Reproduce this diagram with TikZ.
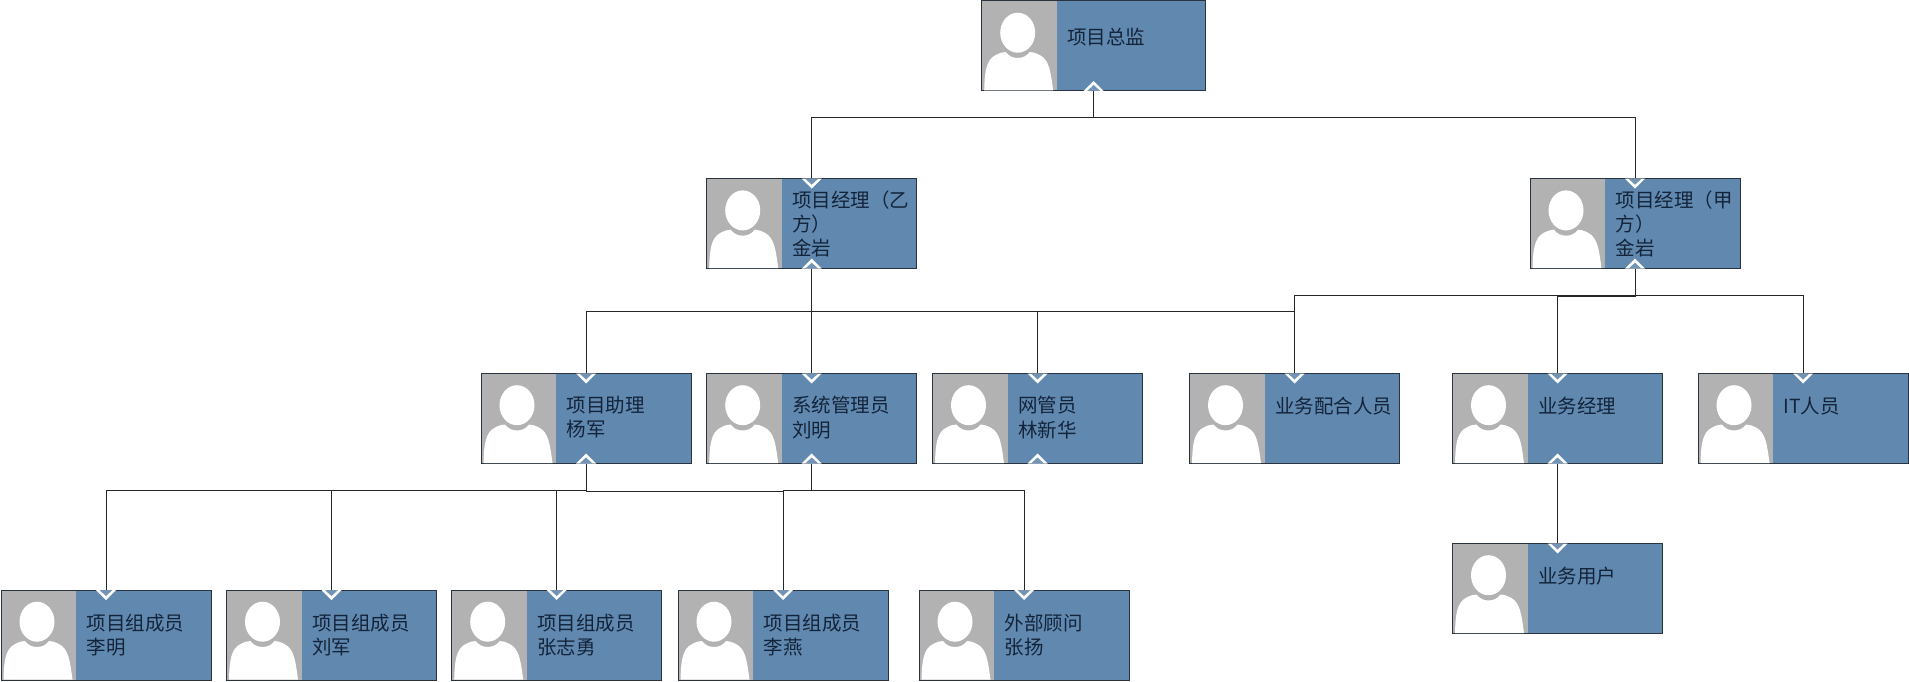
\documentclass[tikz,border=0pt]{standalone}
\usepackage{fontspec}
\setmainfont{Noto Sans CJK SC}
\definecolor{boxblue}{HTML}{6189B0}
\definecolor{photogrey}{HTML}{B2B2B2}
\definecolor{edgedark}{HTML}{2A3440}
\definecolor{tipblue}{HTML}{7494B5}
\definecolor{inktext}{HTML}{13233A}
\tikzset{
  personbox/.style={draw=edgedark,line width=1pt,fill=boxblue,rectangle,anchor=north west,
    minimum width=#1,minimum height=90pt,inner sep=0pt,outer sep=0pt},
  persontext/.style={anchor=north west,inner sep=0pt,outer sep=0pt,align=left,text=inktext,
    font=\fontsize{19.5pt}{24.4pt}\selectfont},
  link/.style={draw=black!85,line width=1pt}
}
% name, left, top, width, first-line offset, text
\newcommand{\personcard}[6]{%
  \node[personbox=#4] (#1) at (#2,#3) {};
  \fill[photogrey] (#2+.5,#3+.5) rectangle (#2+75,#3+89.5);
  \fill[white] (#2+36,#3+31.7) ellipse [x radius=17.5pt,y radius=20pt];
  \fill[white] (#2+2.5,#3+89.5) .. controls (#2+3,#3+72) and (#2+4,#3+59) .. (#2+14,#3+54)
     .. controls (#2+18,#3+52) and (#2+21,#3+51) .. (#2+24,#3+51)
     .. controls (#2+27,#3+55) and (#2+31,#3+57) .. (#2+36,#3+57)
     .. controls (#2+41,#3+57) and (#2+45,#3+55) .. (#2+48,#3+51)
     .. controls (#2+51,#3+51) and (#2+54,#3+52) .. (#2+58,#3+54)
     .. controls (#2+68,#3+59) and (#2+69,#3+72) .. (#2+71.5,#3+89.5) -- cycle;
  \node[persontext] (#1t) at (#2+85.5,#3+#5-8.8) {#6};
}
\newcommand{\tipbelow}[1]{% chevron at the top edge of a card
  \path (#1.north) coordinate (tp);
  \fill[white] ([xshift=-10pt]tp) -- ([xshift=10pt]tp) -- ([yshift=-10pt]tp) -- cycle;
  \fill[tipblue] ([xshift=-6.5pt]tp) -- ([xshift=6.5pt]tp) -- ([yshift=-6pt]tp) -- cycle;
}
\newcommand{\tipabove}[1]{% chevron at the bottom edge of a card
  \path (#1.south) coordinate (tp);
  \fill[white] ([xshift=-10pt]tp) -- ([xshift=10pt]tp) -- ([yshift=10pt]tp) -- cycle;
  \fill[tipblue] ([xshift=-6.5pt]tp) -- ([xshift=6.5pt]tp) -- ([yshift=6pt]tp) -- cycle;
}
\begin{document}
\begin{tikzpicture}[x=1pt,y=-1pt]
\useasboundingbox (0,0) rectangle (1909,682);
\personcard{top}{981.7}{1}{224}{36}{项目总监}
\personcard{pmb}{706.7}{178.7}{210}{20.5}{项目经理（乙\\方）\\金岩}
\personcard{pma}{1530}{178.7}{210}{20.5}{项目经理（甲\\方）\\金岩}
\personcard{asst}{481}{373.5}{210}{31.5}{项目助理\\杨军}
\personcard{sys}{706.7}{373.5}{210}{31.5}{系统管理员\\刘明}
\personcard{net}{932.5}{373.5}{210}{31.5}{网管员\\林新华}
\personcard{coop}{1189.5}{373.5}{210}{32}{业务配合人员}
\personcard{bizm}{1452.5}{373.5}{210}{32}{业务经理}
\personcard{it}{1698}{373.5}{210}{32}{IT人员}
\personcard{bizu}{1452.5}{543.5}{210}{32.5}{业务用户}
\personcard{m1}{1}{590}{210}{32.5}{项目组成员\\李明}
\personcard{m2}{226.5}{590}{210}{32.5}{项目组成员\\刘军}
\personcard{m3}{451.7}{590}{210}{32.5}{项目组成员\\张志勇}
\personcard{m4}{678}{590}{210}{32.5}{项目组成员\\李燕}
\personcard{m5}{919}{590}{210}{32.5}{外部顾问\\张扬}
% connectors
\foreach \a/\b/\d in {top/pmb/27,top/pma/27,
   pmb/asst/42.4,pmb/sys/42.4,pmb/net/42.8,pmb/coop/42.8,
   pma/coop/27,pma/bizm/27.3,pma/it/27,
   asst/m1/27,asst/m2/27.4,asst/m3/27.4,asst/m4/27.7,
   sys/m4/27,sys/m5/27}
  {\draw[link] (\a.south) -- ++(0,\d) -| (\b.north);}
\draw[link] (bizm.south) -- (bizu.north);
% chevrons
\foreach \n in {pmb,pma,asst,sys,net,coop,bizm,it,bizu,m1,m2,m3,m4,m5} {\tipbelow{\n}}
\foreach \n in {top,pmb,pma,asst,sys,net,bizm} {\tipabove{\n}}
\end{tikzpicture}
\end{document}
